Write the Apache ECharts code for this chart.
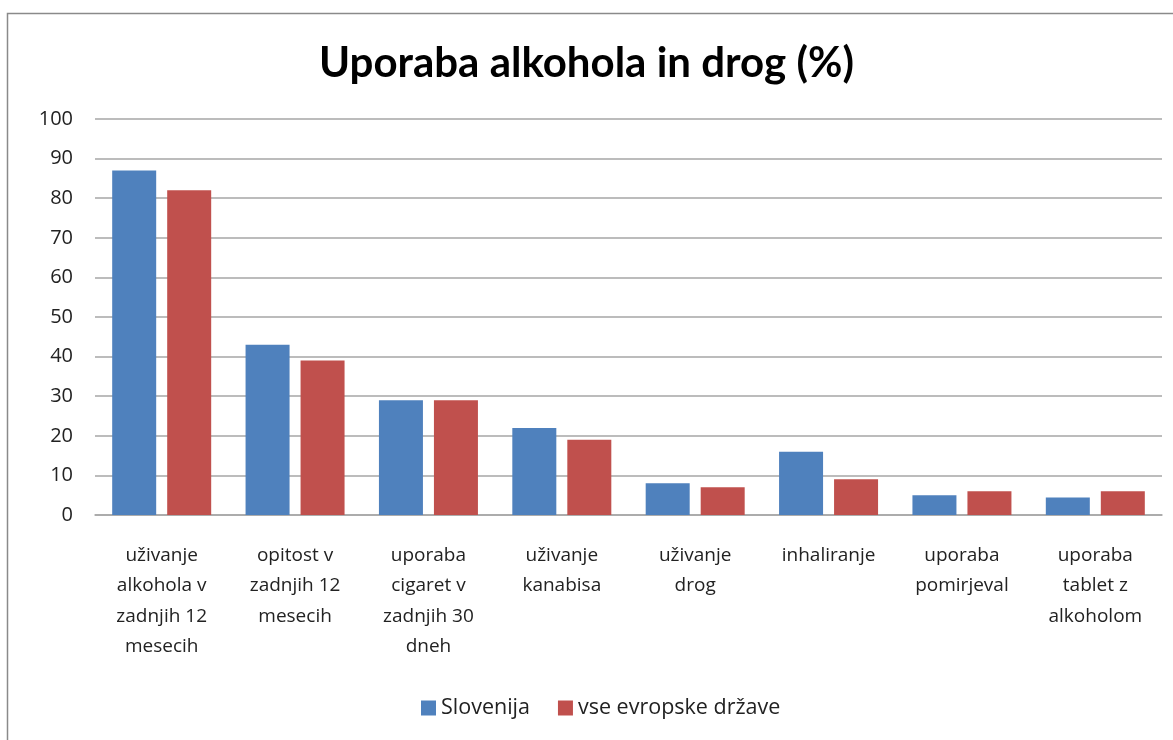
<!DOCTYPE html>
<html>
<head>
<meta charset="utf-8">
<script src="https://cdn.jsdelivr.net/npm/echarts@6/dist/echarts.min.js"></script>
<style>
  html, body { margin: 0; padding: 0; background: #fff; }
  #chart { width: 1173px; height: 740px; }
</style>
</head>
<body>
<div id="chart"></div>
<script>
// Survey categories (x-axis labels, wrapped as in the report)
const categories = [
  'uživanje\nalkohola v\nzadnjih 12\nmesecih',
  'opitost v\nzadnjih 12\nmesecih',
  'uporaba\ncigaret v\nzadnjih 30\ndneh',
  'uživanje\nkanabisa',
  'uživanje\ndrog',
  'inhaliranje',
  'uporaba\npomirjeval',
  'uporaba\ntablet z\nalkoholom'
];

// Share of respondents (%)
const slovenija = [87, 43, 29, 22, 8, 16, 5, 4.4];
const evropa = [82, 39, 29, 19, 7, 9, 6, 6];

const seriesNames = ['Slovenija', 'vse evropske države'];
const yTicks = { min: 0, max: 100, interval: 10 };

const TITLE_FONT = 'Lato, "Open Sans", sans-serif';
const FONT = '"Open Sans", Lato, sans-serif';

const chart = echarts.init(document.getElementById('chart'));
chart.setOption({
  animation: false,
  backgroundColor: '#ffffff',
  graphic: [{
    type: 'rect',
    shape: { x: 7.5, y: 13.5, width: 1180, height: 740 },
    style: { fill: 'none', stroke: '#8a8a8a', lineWidth: 1.5 },
    silent: true
  }],
  title: {
    text: 'Uporaba alkohola in drog (%)',
    left: 'center',
    top: 37,
    textStyle: { fontFamily: TITLE_FONT, fontWeight: 'bold', fontSize: 42, color: '#000' }
  },
  legend: {
    bottom: 16,
    left: 416,
    itemWidth: 15,
    itemHeight: 15,
    itemGap: 28,
    icon: 'rect',
    textStyle: { fontFamily: FONT, fontSize: 21.5, color: '#222' },
    data: seriesNames
  },
  grid: { left: 95, right: 11, top: 119, bottom: 225 },
  xAxis: {
    type: 'category',
    data: categories,
    axisLine: { lineStyle: { color: '#a6a6a6', width: 1.5 } },
    axisTick: { show: false },
    axisLabel: {
      fontFamily: FONT, fontSize: 19, color: '#222',
      lineHeight: 30.5, margin: 25, interval: 0
    }
  },
  yAxis: {
    type: 'value',
    min: yTicks.min, max: yTicks.max, interval: yTicks.interval,
    axisLine: { show: false },
    axisTick: { show: false },
    splitLine: { lineStyle: { color: '#a6a6a6', width: 1.5 } },
    axisLabel: { fontFamily: FONT, fontSize: 20, color: '#222', margin: 22 }
  },
  series: [
    {
      name: seriesNames[0], type: 'bar', data: slovenija,
      barWidth: 44, barGap: '25%',
      itemStyle: { color: '#4F81BD' }
    },
    {
      name: seriesNames[1], type: 'bar', data: evropa,
      barWidth: 44, barGap: '25%',
      itemStyle: { color: '#C0504D' }
    }
  ]
});
</script>
</body>
</html>
